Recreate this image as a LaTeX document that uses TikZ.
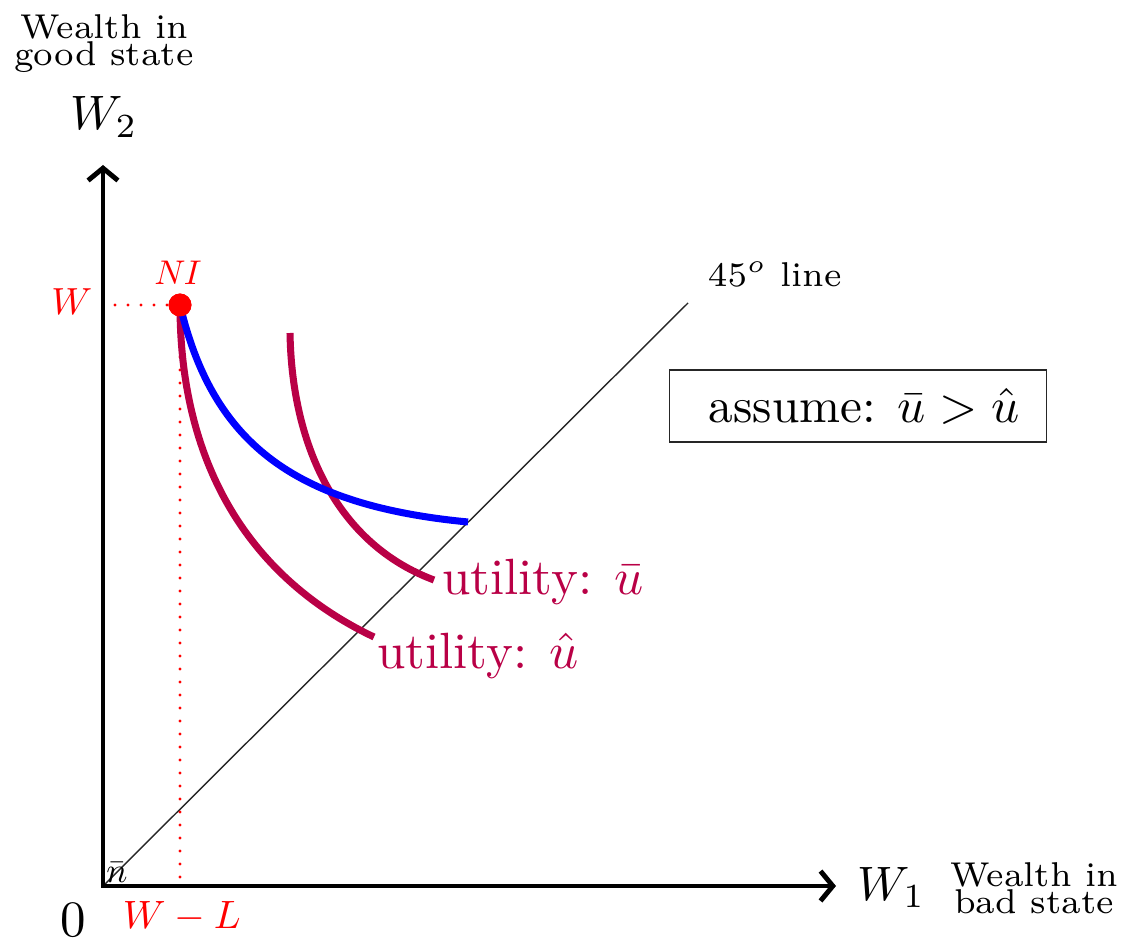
\RequirePackage{fix-cm}
\documentclass[tikz,border=0pt]{standalone}
\usepackage{xcolor}
\usetikzlibrary{arrows.meta}
\definecolor{maroonc}{RGB}{185,0,70}
\begin{document}
\begin{tikzpicture}[x=0.02cm,y=-0.02cm,
  axis/.style={line width=2.8pt,line join=miter,{Straight Barb[length=7pt,width=17pt]}-{Straight Barb[length=7pt,width=17pt]}},
  reddot/.style={red,line width=1.8pt,line cap=round,dash pattern=on 0pt off 7.4pt},
  fortyfive/.style={black!85,line width=0.8pt},
  curve/.style={line width=4pt},
  lab/.style={inner sep=0pt},
  fa/.style={font=\normalsize,scale=2.75},
  fb/.style={font={\fontsize{7}{8}\selectfont},scale=2.8,align=center},
  fu/.style={font=\normalsize,scale=2.9,text=maroonc},
  fr/.style={font=\normalsize,text=red}]
\useasboundingbox (0,0) rectangle (1126,945);

\coordinate (O) at (103,886);
\coordinate (Ytip) at (103,165);
\coordinate (Xtip) at (836,886);
\coordinate (L2) at (688,303);

% 45 degree line
\draw[fortyfive] (O) -- (L2);

% axes
\draw[axis] (Ytip) -- (O) -- (Xtip);

% NI point and dotted lines
\node[circle,fill=red,inner sep=0pt,minimum size=13pt] (NI) at (180,305) {};
\draw[reddot] (NI.center) -- (NI.center |- O);
\draw[reddot] (NI.center) -- (NI.center -| O);

% curves
\draw[curve,maroonc] (NI.center) .. controls (180,470) and (254,580) .. (374,637);
\draw[curve,maroonc] (290,333) .. controls (292,450) and (340,545) .. (434,580);
\draw[curve,blue] (NI.center) .. controls (212,440) and (290,505) .. (468,522);
\fill[red] (NI) circle[radius=11.5];

% labels
\node[lab,fa,anchor=base] (w2) at (104,130) {$W_2$};
\node[lab,fb] (wg) at (104,44) {Wealth in\\[-2.5pt]good state};
\node[lab,fa,anchor=base west] (w1) at (857,900) {$W_1$};
\node[lab,fb] (wb) at (1034,888) {Wealth in\\[-2.5pt]bad state};
\node[lab,font=\normalsize,scale=2.9,anchor=base] (zero) at (73,936) {$0$};
\node[lab,fr,scale=2.25,anchor=base west] (wl) at (122,928) {$W-L$};
\node[lab,fr,scale=2.15,anchor=base east] (wlab) at (93,315) {$W$};
\node[lab,fr,scale=1.95,anchor=base] (nilab) at (178,285) {$N\mkern-1mu I$};
\node[lab,font=\normalsize,scale=2,anchor=base] (nbar) at (117,882) {$\bar n$};
\node[lab,font=\scriptsize,scale=2.8,anchor=base west] (fl) at (707,287) {$45^o$ line};
\node[draw=black!85,line width=1pt,font=\normalsize,scale=2.8,minimum width=76.6pt,minimum height=14.6pt,inner xsep=3.9pt] (box) at (858,406) {\hspace*{2.6pt}assume: $\bar u>\hat u$};
\node[lab,fu,anchor=base west] (ub) at (441,595) {utility: $\bar u$};
\node[lab,fu,anchor=base west] (uh) at (376,668) {utility: $\hat u$};
\end{tikzpicture}
\end{document}
